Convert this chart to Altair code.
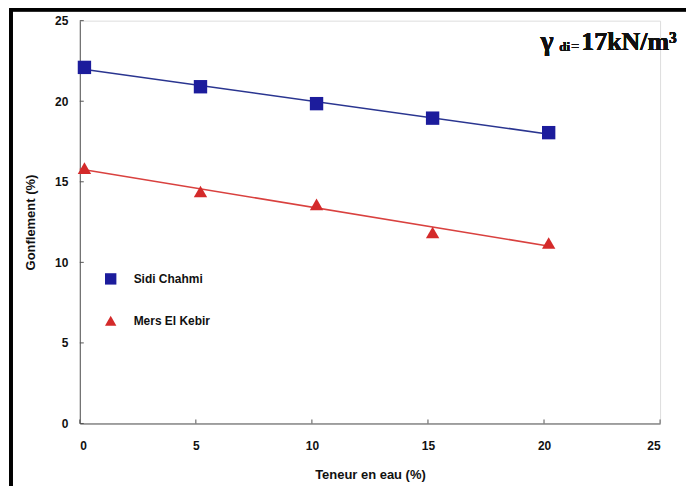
import altair as alt
import pandas as pd

# ---- data ----
teneur = [0.2, 5.2, 10.2, 15.2, 20.2]
sidi_chahmi = [22.1, 20.9, 19.85, 18.95, 18.05]
mers_el_kebir = [15.85, 14.4, 13.6, 11.85, 11.2]
series = ["Sidi Chahmi", "Mers El Kebir"]
marker_colors = ["#1c1c9c", "#d42a2a"]
line_colors = ["#2a3590", "#d9413f"]
shapes = ["square", "triangle-up"]
x_ticks = [0, 5, 10, 15, 20, 25]
y_ticks = [0, 5, 10, 15, 20, 25]

rows = []
for s, vals in zip(series, [sidi_chahmi, mers_el_kebir]):
    for x, y in zip(teneur, vals):
        rows.append({"serie": s, "teneur": x, "gonflement": y})
df = pd.DataFrame(rows)
ticks_df = pd.DataFrame({"teneur": x_ticks, "gonflement": y_ticks})

W, H = 582, 404
FONT = "Liberation Sans"
SERIF = "Liberation Serif"

x_scale = alt.Scale(domain=[0, 25], nice=False, zero=False)
y_scale = alt.Scale(domain=[0, 25], nice=False)

x_axis = alt.Axis(values=x_ticks, ticks=False, grid=False, domainColor="#555",
                  labelFont=FONT, labelFontWeight="bold", labelFontSize=12,
                  labelColor="#111", labelPadding=17,
                  title="Teneur en eau (%)", titleFont=FONT, titleFontSize=13,
                  titleFontWeight="bold", titleColor="#111", titlePadding=17)
y_axis = alt.Axis(values=y_ticks, ticks=False, grid=False, domainColor="#555",
                  labelFont=FONT, labelFontWeight="bold", labelFontSize=12,
                  labelColor="#111", labelPadding=12,
                  title="Gonflement (%)", titleFont=FONT, titleFontSize=13,
                  titleFontWeight="bold", titleColor="#111", titlePadding=17)

X = alt.X("teneur:Q", scale=x_scale, axis=x_axis)
Y = alt.Y("gonflement:Q", scale=y_scale, axis=y_axis)

base = alt.Chart(df)

lines = []
for s, c in zip(series, line_colors):
    lines.append(
        base.transform_filter(alt.datum.serie == s)
        .transform_regression("teneur", "gonflement", extent=[0.0, 20.3])
        .mark_line(color=c, strokeWidth=1.6)
        .encode(x=X, y=Y)
    )

points = base.mark_point(filled=True, size=180, opacity=1).encode(
    x=X, y=Y,
    color=alt.Color("serie:N", scale=alt.Scale(domain=series, range=marker_colors),
                    legend=alt.Legend(title=None, orient="none", legendX=25, legendY=253,
                                      symbolSize=130, labelFont=FONT, labelFontWeight="bold",
                                      labelFontSize=12, labelColor="#111", labelOffset=17,
                                      rowPadding=30, padding=0, symbolStrokeWidth=0)),
    shape=alt.Shape("serie:N", scale=alt.Scale(domain=series, range=shapes)),
)

ytick_marks = alt.Chart(ticks_df).mark_rule(color="#555", strokeWidth=1).encode(
    y=Y, x=alt.value(0), x2=alt.value(4))
xtick_marks = alt.Chart(ticks_df).mark_rule(color="#555", strokeWidth=1).encode(
    x=X, y=alt.value(H), y2=alt.value(H - 4))

frame = alt.Chart(ticks_df).mark_rect(fill=None, stroke="black", strokeWidth=3).encode(
    x=alt.value(-69), x2=alt.value(W + 40), y=alt.value(-11), y2=alt.value(H + 80))

def txt(s, x, y, size, font=SERIF):
    return alt.Chart(ticks_df).mark_text(
        text=s, font=font, fontSize=size, fontWeight="bold", color="#111",
        align="left", baseline="alphabetic").encode(x=alt.value(x), y=alt.value(y))

annot = [
    txt("γ", 462, 29, 28),
    txt("di", 481, 30, 13),
    txt("=", 493, 30, 14),
    txt("17kN/m³", 503, 29, 26),
]

chart = alt.layer(frame, *lines, points, ytick_marks, xtick_marks, *annot).properties(
    width=W, height=H,
    autosize=alt.AutoSizeParams(type="none"),
    padding={"left": 72, "top": 12, "right": 26, "bottom": 62},
).configure_view(stroke=None).configure(background="white")

chart.save("out.html", embed_options={"renderer": "svg", "actions": False})
